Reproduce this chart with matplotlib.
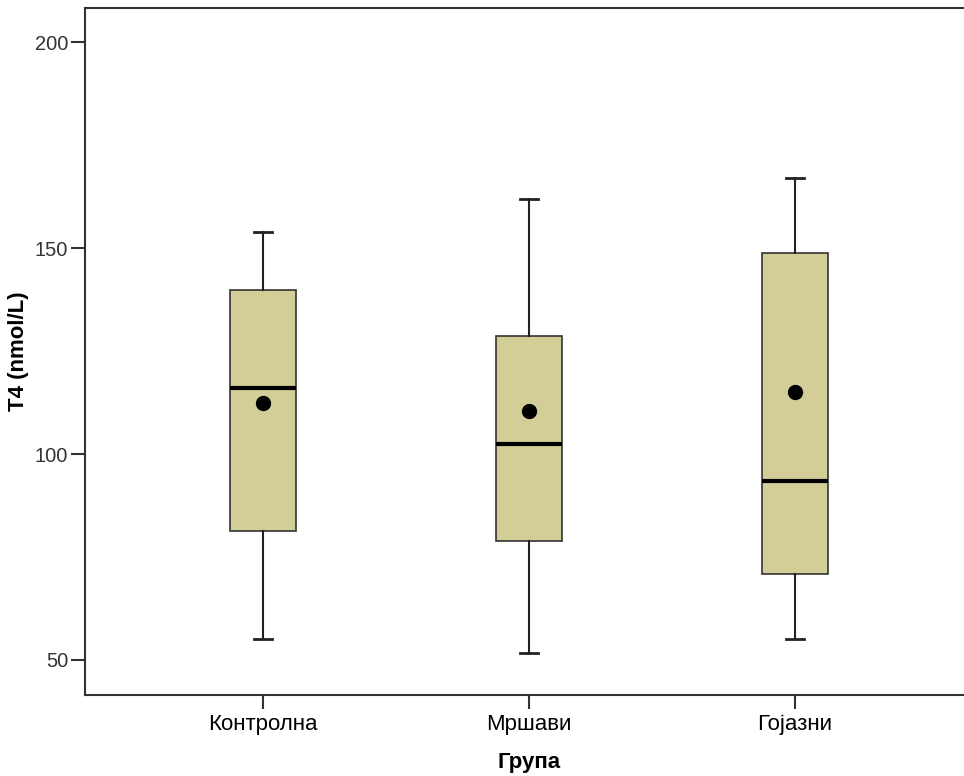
import matplotlib
matplotlib.use("Agg")
import matplotlib.pyplot as plt

groups = ["Контролна", "Мршави", "Гојазни"]
whislo = [55.1, 51.7, 55.1]
q1 = [81.3, 78.9, 70.9]
med = [116.0, 102.4, 93.4]
q3 = [139.8, 128.6, 148.8]
whishi = [154.0, 162.0, 167.0]
means = [112.4, 110.4, 115.0]
yticks = [50, 100, 150, 200]

plt.rcParams['font.family'] = ['Liberation Sans', 'DejaVu Sans']

fig = plt.figure(figsize=(9.64, 7.76), dpi=100)
W, H = 964, 776
left, right, top, bottom = 85, 973, 8, 695
ax = fig.add_axes([left / W, 1 - bottom / H, (right - left) / W, (bottom - top) / H])

stats = []
for i, g in enumerate(groups):
    stats.append(dict(label=g, whislo=whislo[i], q1=q1[i], med=med[i], q3=q3[i],
                      whishi=whishi[i], mean=means[i], fliers=[]))

pos = list(range(len(groups)))
ax.bxp(stats, positions=pos, widths=0.25, showmeans=True, patch_artist=True,
       boxprops=dict(facecolor="#D3CE97", edgecolor="#333333", linewidth=1.2),
       medianprops=dict(color="black", linewidth=3),
       whiskerprops=dict(color="#222222", linewidth=1.5),
       capprops=dict(color="#222222", linewidth=2),
       capwidths=0.07,
       meanprops=dict(marker="o", markerfacecolor="black", markeredgecolor="black", markersize=10))

ax.set_xlim(-0.669, 2.669)
ax.set_ylim(41.5, 208.3)
ax.set_yticks(yticks)
ax.set_yticklabels([str(t) for t in yticks])
ax.set_xticks(pos)
ax.set_xticklabels(groups)
ax.tick_params(axis='y', length=10, width=1.5, labelsize=14.5, colors='#333333', labelcolor='#333333', pad=2)
ax.tick_params(axis='x', length=10, width=1.5, labelsize=16, colors='#333333', labelcolor='black', pad=4)
for s in ['left', 'bottom', 'top', 'right']:
    ax.spines[s].set_linewidth(1.5)
    ax.spines[s].set_color('#333333')

ax.set_ylabel("T4 (nmol/L)", fontsize=16, fontweight='bold', labelpad=4)
ax.set_xlabel("Група", fontsize=16, fontweight='bold', labelpad=12)

fig.savefig("out.png", dpi=100)
